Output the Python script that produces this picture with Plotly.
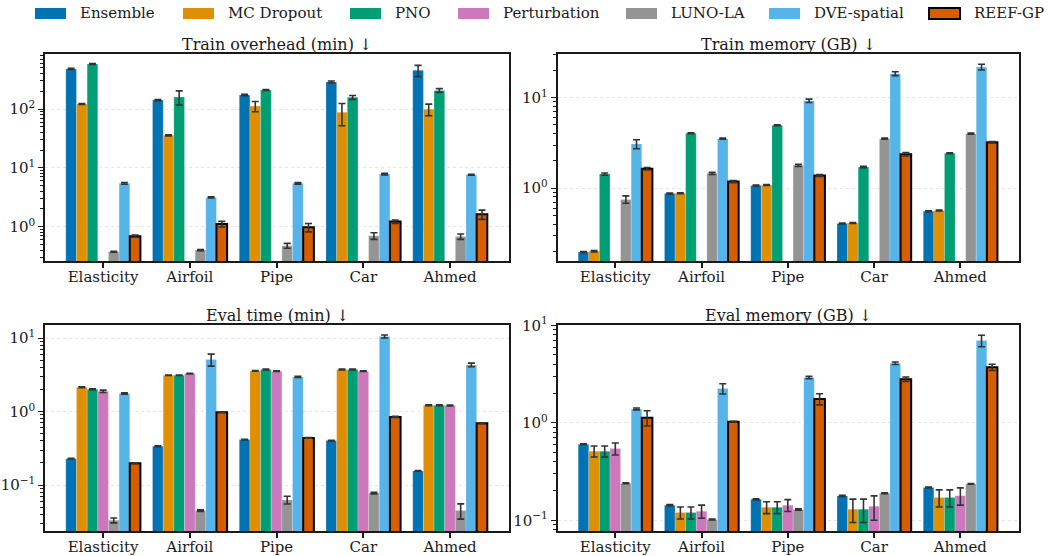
import plotly.graph_objects as go
from plotly.subplots import make_subplots

# ---------------------------------------------------------------- data
datasets = ["Elasticity", "Airfoil", "Pipe", "Car", "Ahmed"]
methods = ["Ensemble", "MC Dropout", "PNO", "Perturbation", "LUNO-LA", "DVE-spatial", "REEF-GP"]
colors = ["#0173b2", "#de8f05", "#029e73", "#cc78bc", "#949494", "#56b4e9", "#d55e00"]

# Train overhead (min)
train_time = {
    "Ensemble":     [480, 142, 173, 288, 454],
    "MC Dropout":   [122, 35.7, 112, 88, 99],
    "PNO":          [582, 160, 210, 158, 207],
    "Perturbation": [None, None, None, None, None],
    "LUNO-LA":      [0.376, 0.40, 0.475, 0.70, 0.68],
    "DVE-spatial":  [5.45, 3.15, 5.45, 7.85, 7.65],
    "REEF-GP":      [0.69, 1.11, 0.975, 1.22, 1.62],
}
train_time_err = {
    "Ensemble":     [10, 3, 4, 12, 98],
    "MC Dropout":   [2, 0.7, 22, 36, 22],
    "PNO":          [10, 43, 4, 12, 15],
    "Perturbation": [None, None, None, None, None],
    "LUNO-LA":      [0.006, 0.008, 0.045, 0.09, 0.07],
    "DVE-spatial":  [0.2, 0.06, 0.15, 0.25, 0.12],
    "REEF-GP":      [0.03, 0.12, 0.16, 0.08, 0.29],
}

# Train memory (GB)
train_mem = {
    "Ensemble":     [0.196, 0.87, 1.07, 0.405, 0.555],
    "MC Dropout":   [0.20, 0.88, 1.08, 0.41, 0.565],
    "PNO":          [1.43, 4.05, 4.97, 1.71, 2.43],
    "Perturbation": [None, None, None, None, None],
    "LUNO-LA":      [0.75, 1.46, 1.79, 3.53, 4.01],
    "DVE-spatial":  [3.08, 3.53, 9.26, 18.5, 21.9],
    "REEF-GP":      [1.64, 1.18, 1.38, 2.37, 3.22],
}
train_mem_err = {
    "Ensemble":     [0.003, 0.01, 0.012, 0.005, 0.007],
    "MC Dropout":   [0.003, 0.01, 0.012, 0.005, 0.007],
    "PNO":          [0.04, 0.05, 0.06, 0.03, 0.03],
    "Perturbation": [None, None, None, None, None],
    "LUNO-LA":      [0.07, 0.04, 0.05, 0.06, 0.06],
    "DVE-spatial":  [0.35, 0.05, 0.4, 0.9, 1.6],
    "REEF-GP":      [0.05, 0.03, 0.03, 0.1, 0.06],
}

# Eval time (min)
eval_time = {
    "Ensemble":     [0.229, 0.338, 0.416, 0.403, 0.156],
    "MC Dropout":   [2.14, 3.12, 3.57, 3.73, 1.22],
    "PNO":          [2.01, 3.12, 3.73, 3.73, 1.22],
    "Perturbation": [1.89, 3.29, 3.54, 3.54, 1.21],
    "LUNO-LA":      [0.0332, 0.045, 0.0629, 0.078, 0.045],
    "DVE-spatial":  [1.76, 5.1, 2.96, 10.5, 4.31],
    "REEF-GP":      [0.198, 0.98, 0.438, 0.846, 0.694],
}
eval_time_err = {
    "Ensemble":     [0.003, 0.004, 0.005, 0.004, 0.002],
    "MC Dropout":   [0.03, 0.03, 0.04, 0.05, 0.02],
    "PNO":          [0.03, 0.03, 0.06, 0.06, 0.02],
    "Perturbation": [0.07, 0.03, 0.04, 0.04, 0.02],
    "LUNO-LA":      [0.0025, 0.001, 0.0075, 0.002, 0.0105],
    "DVE-spatial":  [0.04, 0.95, 0.05, 0.5, 0.25],
    "REEF-GP":      [0.002, 0.01, 0.005, 0.015, 0.008],
}

# Eval memory (GB)
eval_mem = {
    "Ensemble":     [0.604, 0.143, 0.164, 0.178, 0.217],
    "MC Dropout":   [0.512, 0.12, 0.136, 0.13, 0.171],
    "PNO":          [0.512, 0.12, 0.136, 0.13, 0.171],
    "Perturbation": [0.545, 0.124, 0.143, 0.139, 0.179],
    "LUNO-LA":      [0.240, 0.102, 0.129, 0.189, 0.236],
    "DVE-spatial":  [1.39, 2.25, 2.92, 4.10, 7.0],
    "REEF-GP":      [1.13, 1.03, 1.76, 2.81, 3.73],
}
eval_mem_err = {
    "Ensemble":     [0.005, 0.002, 0.002, 0.002, 0.002],
    "MC Dropout":   [0.066, 0.017, 0.019, 0.035, 0.034],
    "PNO":          [0.066, 0.017, 0.019, 0.035, 0.034],
    "Perturbation": [0.077, 0.019, 0.02, 0.039, 0.036],
    "LUNO-LA":      [0.003, 0.001, 0.002, 0.002, 0.002],
    "DVE-spatial":  [0.03, 0.27, 0.08, 0.12, 0.95],
    "REEF-GP":      [0.2, 0.01, 0.23, 0.15, 0.27],
}

panel_titles = ["Train overhead (min) ↓", "Train memory (GB) ↓",
                "Eval time (min) ↓", "Eval memory (GB) ↓"]
# log10 y-ranges of the four panels
y_ranges = [[-0.583, 2.935], [-0.807, 1.485], [-1.624, 1.184], [-1.110, 1.010]]
y_major = [[1, 10, 100], [1, 10], [0.1, 1, 10], [0.1, 1, 10]]
major_text = {0.1: "10<sup>−1</sup>", 1: "10<sup>0</sup>", 10: "10<sup>1</sup>", 100: "10<sup>2</sup>"}

# ---------------------------------------------------------------- layout geometry (px)
W, H = 1053, 556
col_px = [(45, 509), (557.5, 1019)]
row_px = [(54, 261), (324.5, 531)]
# legend row: left edge of each swatch, swatch size, text offset
legend_x = [35, 183, 350, 458, 626, 769, 929]
legend_sw, legend_sh, legend_gap = 31, 11, 43
legend_cy = 13.5

FONT = "DejaVu Serif"
INK = "#1a1a1a"
fig = make_subplots(rows=2, cols=2)

panels = [(train_time, train_time_err), (train_mem, train_mem_err),
          (eval_time, eval_time_err), (eval_mem, eval_mem_err)]

for p, (vals, errs) in enumerate(panels):
    r, c = p // 2 + 1, p % 2 + 1
    for m, col in zip(methods, colors):
        is_reef = m == "REEF-GP"
        fig.add_trace(
            go.Bar(
                x=datasets, y=vals[m], name=m,
                marker=dict(color=col,
                            line=dict(color="black" if is_reef else "rgba(255,255,255,0.35)",
                                      width=2 if is_reef else 0.6)),
                error_y=dict(type="data", array=errs[m], color="#333333",
                             thickness=1.6, width=3.5),
                showlegend=False,
            ),
            row=r, col=c,
        )

minor_vals = [k * 10 ** d for d in range(-3, 3) for k in range(2, 10)]

for p in range(4):
    r, c = p // 2, p % 2
    x0, x1 = col_px[c]
    y0, y1 = row_px[r]
    xa = "xaxis" if p == 0 else f"xaxis{p + 1}"
    ya = "yaxis" if p == 0 else f"yaxis{p + 1}"
    fig.layout[xa].update(
        domain=[x0 / W, x1 / W], range=[-0.67, 4.68],
        showline=True, mirror=True, linecolor=INK, linewidth=1.5,
        ticks="outside", ticklen=5, tickwidth=1.5, tickcolor=INK,
        ticklabelstandoff=-4,
        tickfont=dict(family=FONT, size=15, color=INK), showgrid=False,
    )
    fig.layout[ya].update(
        domain=[1 - y1 / H, 1 - y0 / H], type="log", range=y_ranges[p],
        showline=True, mirror=True, linecolor=INK, linewidth=1.5,
        ticks="outside", ticklen=5, tickwidth=1.2, tickcolor=INK,
        tickmode="array", tickvals=y_major[p], ticktext=[major_text[v] for v in y_major[p]],
        tickfont=dict(family=FONT, size=15, color=INK),
        showgrid=True, gridcolor="#e4e4e4", gridwidth=1, griddash="dot",
        minor=dict(tickmode="array", tickvals=minor_vals, ticks="outside",
                   ticklen=3, tickwidth=1, tickcolor=INK, showgrid=False),
        zeroline=False,
    )
    fig.add_annotation(
        text=panel_titles[p], xref="paper", yref="paper",
        x=(x0 + x1) / 2 / W, y=1 - y0 / H, xanchor="center", yanchor="bottom",
        yshift=-2, showarrow=False, font=dict(family=FONT, size=16, color=INK),
    )

# legend row across the top
for lx, m, col in zip(legend_x, methods, colors):
    is_reef = m == "REEF-GP"
    fig.add_shape(
        type="rect", xref="paper", yref="paper",
        x0=lx / W, x1=(lx + legend_sw) / W,
        y0=1 - (legend_cy + legend_sh / 2) / H, y1=1 - (legend_cy - legend_sh / 2) / H,
        fillcolor=col, line=dict(color="black" if is_reef else col, width=2 if is_reef else 0),
    )
    fig.add_annotation(
        text=m, xref="paper", yref="paper", x=(lx + legend_gap) / W, y=1 - legend_cy / H,
        xanchor="left", yanchor="middle", showarrow=False,
        font=dict(family=FONT, size=15, color=INK),
    )

fig.update_layout(
    width=W, height=H, margin=dict(l=0, r=0, t=0, b=0, autoexpand=False),
    paper_bgcolor="white", plot_bgcolor="white",
    barmode="group", bargap=0.14, bargroupgap=0,
    font=dict(family=FONT, size=15, color=INK),
    showlegend=False,
)

fig.write_html("out.html")
